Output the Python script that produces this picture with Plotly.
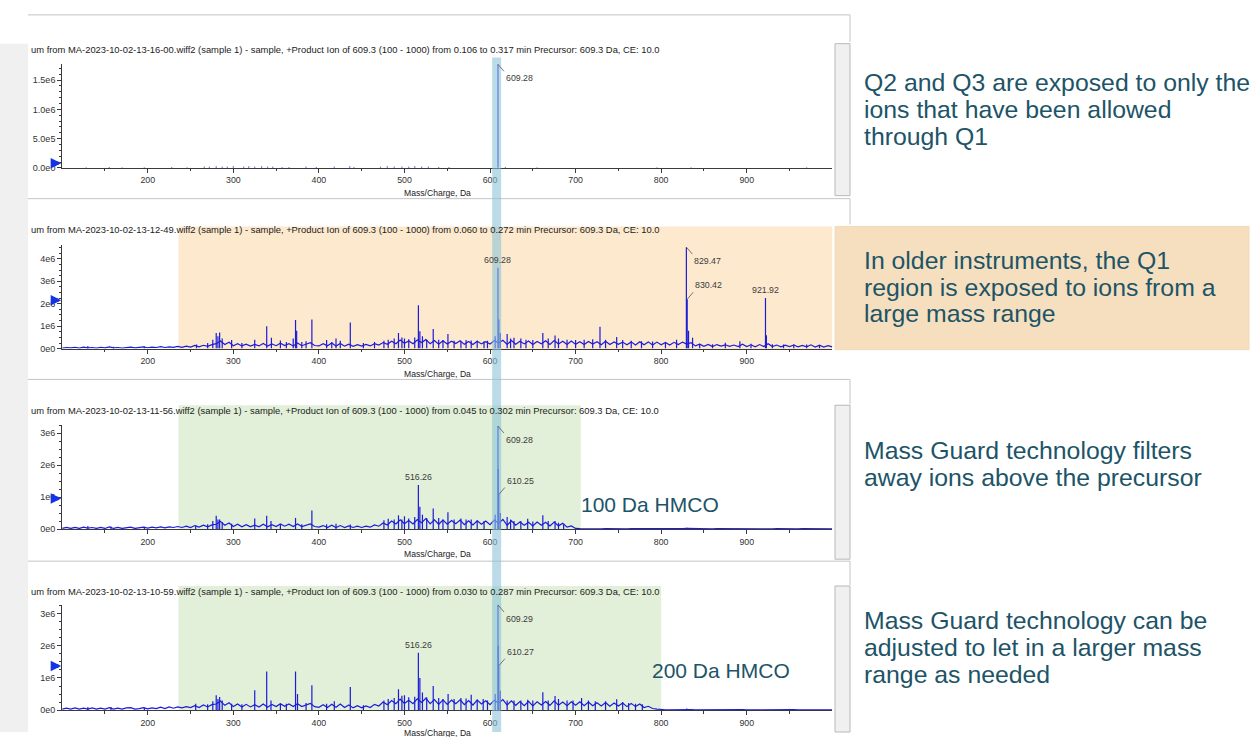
import plotly.graph_objects as go

W, H = 1253, 737
def X(px): return px / W
def Y(py): return 1 - py / H

# ---------------- data (intensities in units of 1e6 counts) ----------------
mz_grid = list(range(100, 1001, 5))

# panel 1: only isolated specks + precursor
peaks1_mz = [128, 155, 170, 196, 228, 246, 266, 272, 280, 287, 293, 300, 312, 318, 325, 333, 340, 346, 357, 365,
             385, 397, 418, 436, 441, 472, 480, 488, 497, 505, 512, 520, 528, 540, 552, 609.28, 618, 655, 795, 835, 970]
peaks1_int = [0.012, 0.015, 0.01, 0.012, 0.014, 0.012, 0.018, 0.02, 0.022, 0.018, 0.02, 0.022, 0.02, 0.024, 0.02, 0.022,
              0.02, 0.018, 0.016, 0.015, 0.02, 0.016, 0.018, 0.022, 0.016, 0.02, 0.022, 0.02, 0.018, 0.02, 0.022, 0.018,
              0.02, 0.016, 0.015, 1.77, 0.015, 0.012, 0.01, 0.012, 0.01]

base2 = [0.02, 0.05, 0.03, 0.06, 0.02, 0.07, 0.03, 0.05, 0.02, 0.06, 0.03, 0.08, 0.03, 0.05, 0.02, 0.06, 0.07, 0.03, 0.05, 0.08,
         0.04, 0.07, 0.05, 0.09, 0.05, 0.08, 0.06, 0.10, 0.06, 0.11, 0.07, 0.14, 0.08, 0.15, 0.10, 0.18, 0.22, 0.34, 0.18, 0.28,
         0.13, 0.22, 0.12, 0.20, 0.11, 0.19, 0.12, 0.23, 0.11, 0.21, 0.13, 0.24, 0.14, 0.22, 0.12, 0.25, 0.13, 0.21, 0.26, 0.14,
         0.12, 0.22, 0.13, 0.25, 0.12, 0.23, 0.11, 0.20, 0.10, 0.18, 0.11, 0.19, 0.12, 0.22, 0.16, 0.27, 0.19, 0.33, 0.22, 0.38,
         0.24, 0.34, 0.22, 0.38, 0.27, 0.40, 0.22, 0.36, 0.20, 0.35, 0.21, 0.33, 0.23, 0.35, 0.19, 0.32, 0.18, 0.33, 0.21, 0.31,
         0.20, 0.36, 0.25, 0.37, 0.19, 0.36, 0.20, 0.33, 0.21, 0.34, 0.18, 0.32, 0.22, 0.35, 0.19, 0.36, 0.21, 0.33, 0.18, 0.34,
         0.19, 0.31, 0.18, 0.32, 0.20, 0.31, 0.17, 0.33, 0.18, 0.30, 0.19, 0.29, 0.17, 0.30, 0.16, 0.31, 0.17, 0.30, 0.16, 0.29,
         0.17, 0.27, 0.16, 0.28, 0.18, 0.29, 0.20, 0.26, 0.12, 0.20, 0.10, 0.19, 0.09, 0.18, 0.11, 0.17, 0.10, 0.16, 0.09, 0.20,
         0.09, 0.17, 0.08, 0.18, 0.09, 0.22, 0.09, 0.16, 0.08, 0.15, 0.09, 0.16, 0.08, 0.14, 0.08, 0.17, 0.07, 0.15, 0.07, 0.13,
         0.08]
peaks2_mz = [130, 160, 196, 257, 270, 276, 280, 282, 284, 287, 298, 310, 325, 339, 344.5, 355, 362, 370, 372.7, 374,
             380, 385, 391.8, 409, 415, 420, 425, 436.7, 452, 465, 476, 481, 488, 493, 497, 500, 505, 512, 516.3, 518,
             521, 526, 533.6, 540, 545, 550.8, 558, 566, 572, 578, 585, 593, 597, 606, 609.28, 610.3, 612, 620, 624, 628,
             636, 642, 650, 661.7, 668, 676, 680, 690, 700, 710, 720, 728.5, 735, 748, 755, 765, 777, 790, 805, 818,
             829.47, 830.42, 832, 836.7, 845, 860, 875, 892, 905, 921.92, 923, 930, 943, 955, 970, 985]
peaks2_int = [0.12, 0.08, 0.10, 0.18, 0.25, 0.40, 0.70, 0.55, 0.72, 0.45, 0.38, 0.25, 0.40, 1.00, 0.48, 0.36, 0.30, 0.45, 1.27, 0.80,
              0.30, 0.33, 1.30, 0.38, 0.30, 0.45, 0.35, 1.16, 0.25, 0.30, 0.35, 0.40, 0.45, 0.70, 0.50, 0.45, 0.42, 0.50, 1.93, 0.77,
              0.55, 0.40, 0.87, 0.40, 0.38, 0.65, 0.35, 0.33, 0.38, 0.36, 0.35, 0.33, 0.35, 0.55, 3.60, 1.30, 0.70, 0.65, 0.45, 0.48,
              0.45, 0.40, 0.38, 0.70, 0.45, 0.58, 0.45, 0.40, 0.38, 0.40, 0.42, 0.98, 0.40, 0.52, 0.38, 0.35, 0.33, 0.32, 0.30, 0.40,
              4.52, 2.20, 0.80, 0.48, 0.22, 0.20, 0.26, 0.33, 0.22, 2.26, 0.60, 0.20, 0.18, 0.20, 0.18, 0.16]

base3 = [0.02, 0.05, 0.02, 0.05, 0.02, 0.06, 0.03, 0.05, 0.02, 0.05, 0.02, 0.07, 0.02, 0.05, 0.02, 0.05, 0.06, 0.02, 0.04, 0.06,
         0.03, 0.06, 0.04, 0.07, 0.04, 0.07, 0.05, 0.08, 0.05, 0.09, 0.05, 0.11, 0.06, 0.12, 0.07, 0.13, 0.15, 0.24, 0.12, 0.19,
         0.08, 0.15, 0.07, 0.14, 0.07, 0.12, 0.07, 0.15, 0.07, 0.14, 0.08, 0.16, 0.09, 0.15, 0.08, 0.16, 0.08, 0.13, 0.16, 0.08,
         0.06, 0.11, 0.05, 0.12, 0.05, 0.11, 0.05, 0.10, 0.05, 0.09, 0.05, 0.09, 0.06, 0.13, 0.09, 0.19, 0.13, 0.25, 0.16, 0.29,
         0.17, 0.27, 0.16, 0.30, 0.20, 0.33, 0.16, 0.29, 0.15, 0.28, 0.15, 0.27, 0.17, 0.28, 0.14, 0.26, 0.13, 0.26, 0.15, 0.25,
         0.14, 0.28, 0.18, 0.30, 0.12, 0.26, 0.12, 0.22, 0.12, 0.21, 0.10, 0.22, 0.12, 0.21, 0.10, 0.22, 0.10, 0.18, 0.06, 0.10,
         0.02, 0.015, 0.01, 0.015, 0.01, 0.012, 0.01, 0.015, 0.01, 0.012, 0.01, 0.015, 0.01, 0.012, 0.01, 0.015, 0.01, 0.012, 0.01, 0.015,
         0.01, 0.012, 0.01, 0.015, 0.01, 0.012, 0.02, 0.015, 0.01, 0.012, 0.01, 0.015, 0.01, 0.012, 0.01, 0.015, 0.01, 0.012, 0.01, 0.015,
         0.01, 0.012, 0.01, 0.015, 0.01, 0.012, 0.01, 0.015, 0.01, 0.012, 0.01, 0.015, 0.01, 0.012, 0.01, 0.015, 0.01, 0.012, 0.01, 0.015,
         0.01]
peaks3_mz = [130, 157, 196, 256, 270, 276, 280, 282, 284, 287, 298, 325, 339, 344, 355, 372.7, 380, 391.8, 409, 420,
             436.7, 476, 481, 488, 493, 497, 500, 505, 512, 516.26, 518, 521, 526, 533.6, 540, 545, 550.8, 558, 566, 572,
             578, 585, 593, 606, 609.28, 609.6, 610.25, 612, 620, 624, 628, 636, 644, 650, 661.7, 668, 676, 680, 686, 830]
peaks3_int = [0.10, 0.08, 0.07, 0.11, 0.15, 0.25, 0.42, 0.30, 0.30, 0.22, 0.17, 0.33, 0.42, 0.25, 0.15, 0.35, 0.15, 0.58, 0.15, 0.17,
              0.14, 0.28, 0.32, 0.30, 0.43, 0.30, 0.40, 0.33, 0.38, 1.38, 0.70, 0.45, 0.35, 0.64, 0.35, 0.30, 0.53, 0.30, 0.33, 0.30,
              0.30, 0.27, 0.25, 0.45, 3.22, 1.88, 1.08, 0.50, 0.38, 0.30, 0.25, 0.25, 0.32, 0.24, 0.43, 0.25, 0.25, 0.20, 0.14, 0.04]

base4 = [0.03, 0.06, 0.03, 0.07, 0.03, 0.06, 0.03, 0.07, 0.03, 0.06, 0.03, 0.08, 0.03, 0.06, 0.03, 0.07, 0.08, 0.03, 0.05, 0.08,
         0.04, 0.07, 0.05, 0.09, 0.05, 0.10, 0.06, 0.10, 0.07, 0.11, 0.08, 0.14, 0.08, 0.16, 0.10, 0.17, 0.19, 0.28, 0.15, 0.23,
         0.11, 0.19, 0.10, 0.18, 0.10, 0.17, 0.10, 0.19, 0.09, 0.18, 0.11, 0.20, 0.12, 0.19, 0.11, 0.20, 0.11, 0.17, 0.21, 0.11,
         0.09, 0.17, 0.08, 0.18, 0.09, 0.19, 0.08, 0.16, 0.07, 0.14, 0.07, 0.13, 0.08, 0.18, 0.13, 0.25, 0.17, 0.30, 0.20, 0.34,
         0.21, 0.31, 0.20, 0.35, 0.24, 0.37, 0.20, 0.33, 0.18, 0.32, 0.18, 0.31, 0.20, 0.32, 0.17, 0.30, 0.16, 0.31, 0.19, 0.29,
         0.17, 0.31, 0.22, 0.33, 0.16, 0.29, 0.15, 0.27, 0.14, 0.27, 0.13, 0.26, 0.16, 0.27, 0.15, 0.29, 0.15, 0.25, 0.14, 0.26,
         0.15, 0.26, 0.14, 0.25, 0.14, 0.23, 0.13, 0.24, 0.12, 0.22, 0.13, 0.22, 0.11, 0.21, 0.11, 0.19, 0.08, 0.12, 0.05, 0.03,
         0.01, 0.012, 0.01, 0.015, 0.01, 0.012, 0.02, 0.015, 0.01, 0.012, 0.01, 0.015, 0.01, 0.012, 0.01, 0.015, 0.01, 0.012, 0.01, 0.015,
         0.01, 0.012, 0.01, 0.015, 0.01, 0.012, 0.01, 0.015, 0.01, 0.012, 0.01, 0.015, 0.01, 0.012, 0.01, 0.015, 0.01, 0.012, 0.01, 0.015,
         0.01]
peaks4_mz = [130, 157, 196, 256, 270, 276, 280, 282, 284, 287, 298, 310, 325, 339, 344, 355, 362, 372.7, 375, 385,
             391.8, 409, 418, 436.7, 452, 476, 481, 488, 493, 497, 500, 505, 512, 516.26, 518, 521, 526, 533.6, 540, 545,
             551, 558, 566, 572, 578, 585, 592, 597, 606, 609.29, 609.6, 610.27, 612, 620, 628, 636, 644, 650, 661.7, 668,
             676, 680, 690, 697, 707, 715, 723, 735, 748, 755, 762, 770, 778, 830]
peaks4_int = [0.10, 0.10, 0.08, 0.20, 0.18, 0.28, 0.46, 0.35, 0.41, 0.30, 0.20, 0.18, 0.62, 1.20, 0.30, 0.20, 0.20, 1.20, 0.50, 0.22,
              0.77, 0.20, 0.28, 0.72, 0.15, 0.30, 0.35, 0.38, 0.65, 0.45, 0.46, 0.40, 0.42, 1.78, 1.00, 0.55, 0.40, 0.75, 0.38, 0.35,
              0.50, 0.35, 0.38, 0.36, 0.48, 0.33, 0.35, 0.30, 0.50, 3.27, 2.00, 1.38, 0.60, 0.30, 0.30, 0.30, 0.32, 0.30, 0.56, 0.30,
              0.44, 0.35, 0.30, 0.30, 0.38, 0.30, 0.28, 0.28, 0.34, 0.25, 0.22, 0.20, 0.18, 0.05]

# peak labels: (m/z, intensity, text, style)
labels1 = [(609.28, 1.77, "609.28", "down")]
labels2 = [(609.28, 3.60, "609.28", "top"), (829.47, 4.52, "829.47", "down"),
           (830.42, 2.20, "830.42", "up"), (921.92, 2.26, "921.92", "top")]
labels3 = [(609.28, 3.22, "609.28", "down"), (610.25, 1.08, "610.25", "up"), (516.26, 1.38, "516.26", "top")]
labels4 = [(609.29, 3.27, "609.29", "down"), (610.27, 1.38, "610.27", "up"), (516.26, 1.78, "516.26", "top")]

titles = [
    "um from MA-2023-10-02-13-16-00.wiff2 (sample 1) - sample, +Product Ion of 609.3 (100 - 1000) from 0.106 to 0.317 min Precursor: 609.3 Da, CE: 10.0",
    "um from MA-2023-10-02-13-12-49.wiff2 (sample 1) - sample, +Product Ion of 609.3 (100 - 1000) from 0.060 to 0.272 min Precursor: 609.3 Da, CE: 10.0",
    "um from MA-2023-10-02-13-11-56.wiff2 (sample 1) - sample, +Product Ion of 609.3 (100 - 1000) from 0.045 to 0.302 min Precursor: 609.3 Da, CE: 10.0",
    "um from MA-2023-10-02-13-10-59.wiff2 (sample 1) - sample, +Product Ion of 609.3 (100 - 1000) from 0.030 to 0.287 min Precursor: 609.3 Da, CE: 10.0",
]
x_ticks = [200, 300, 400, 500, 600, 700, 800, 900]
x_minor = [150, 250, 350, 450, 550, 650, 750, 850, 950]
y_ticks1 = [0, 0.5, 1.0, 1.5]
y_text1 = ["0.0e0", "5.0e5", "1.0e6", "1.5e6"]
y_ticks = [0, 1, 2, 3, 4]
y_text = ["0e0", "1e6", "2e6", "3e6", "4e6"]
marker_level = [0.08, 2.15, 0.96, 1.37]   # position of the blue threshold arrow

side_text = [
    (["Q2 and Q3 are exposed to only the", "ions that have been allowed", "through Q1"], [83, 110, 137]),
    (["In older instruments, the Q1", "region is exposed to ions from a", "large mass range"], [262, 289, 316]),
    (["Mass Guard technology filters", "away ions above the precursor"], [454, 481]),
    (["Mass Guard technology can be", "adjusted to let in a larger mass", "range as needed"], [625, 652, 679]),
]

# ---------------- layout geometry (pixels) ----------------
X_LEFT, X_RIGHT = 62.2, 832.3
panels = [  # (pixel of zero line, px per 1e6, y max in 1e6, title y, xlabel top y)
    (169.0, 58.9, 1.78, 50, 187),
    (351.0, 22.6, 4.62, 231, 370),
    (532.7, 32.2, 3.27, 413, 551),
    (715.0, 32.4, 3.27, 596, 731),
]
BLUE = "#1c1cd8"
TEXT = "#1d5467"
FONT = "Arial, Liberation Sans, sans-serif"

fig = go.Figure()
bases = [None, base2, base3, base4]
peaks = [(peaks1_mz, peaks1_int), (peaks2_mz, peaks2_int), (peaks3_mz, peaks3_int), (peaks4_mz, peaks4_int)]
labels = [labels1, labels2, labels3, labels4]

annotations = []
shapes = []

for i, (zero_px, scale, ymax, title_y, xlab_y) in enumerate(panels):
    n = i + 1
    xa = "x" if n == 1 else f"x{n}"
    ya = "y" if n == 1 else f"y{n}"
    top_px = zero_px - ymax * scale
    fig.layout[f"xaxis{n if n > 1 else ''}"] = dict(
        domain=[X(X_LEFT), X(X_RIGHT)], range=[100, 1000], anchor=ya,
        showline=True, linecolor="#3a3a3a", linewidth=1, mirror=False,
        ticks="outside", ticklen=4, tickcolor="#3a3a3a",
        tickmode="array", tickvals=x_ticks, ticktext=[str(v) for v in x_ticks],
        tickfont=dict(family=FONT, size=8.8, color="#333"),
        minor=dict(tickmode="array", tickvals=x_minor, ticks="outside", ticklen=2.5, tickcolor="#3a3a3a"),
        showgrid=False, zeroline=False, layer="below traces", fixedrange=True,
    )
    if n == 1:
        tv = [v * 1e6 for v in y_ticks1]; tt = y_text1; mdt = 1e5
    else:
        tv = [v * 1e6 for v in y_ticks if v <= ymax]; tt = y_text[:len(tv)]; mdt = 2.5e5
    fig.layout[f"yaxis{n if n > 1 else ''}"] = dict(
        domain=[Y(zero_px), Y(top_px)], range=[0, ymax * 1e6], anchor=xa,
        showline=True, linecolor="#3a3a3a", linewidth=1,
        ticks="outside", ticklen=4, tickcolor="#3a3a3a",
        tickmode="array", tickvals=tv, ticktext=tt,
        tickfont=dict(family=FONT, size=9, color="#333"),
        minor=dict(tickmode="linear", tick0=0, dtick=mdt, ticks="outside", ticklen=2, tickcolor="#3a3a3a"),
        showgrid=False, zeroline=False, layer="below traces", fixedrange=True,
    )
    # spectrum baseline profile
    if bases[i] is not None:
        fig.add_trace(go.Scatter(x=mz_grid, y=[v * 1e6 for v in bases[i]], mode="lines",
                                 line=dict(color=BLUE, width=1.2), xaxis=xa, yaxis=ya,
                                 hoverinfo="skip", showlegend=False))
    # peak sticks
    sx, sy = [], []
    for m, h in zip(*peaks[i]):
        sx += [m, m, None]
        sy += [0, h * 1e6, None]
    fig.add_trace(go.Scatter(x=sx, y=sy, mode="lines", line=dict(color=BLUE, width=1.2),
                             xaxis=xa, yaxis=ya, hoverinfo="skip", showlegend=False, cliponaxis=False))
    # peak labels
    for m, h, txt, style in labels[i]:
        common = dict(x=m, y=h * 1e6, xref=xa, yref=ya, text=txt,
                      font=dict(family=FONT, size=8.8, color="#3c3c3c"))
        if style == "top":
            annotations.append(dict(**common, showarrow=False, yanchor="bottom", xanchor="center", yshift=1))
        elif style == "down":
            annotations.append(dict(**common, showarrow=True, arrowhead=0, arrowwidth=0.8, arrowcolor="#555",
                                    ax=6, ay=7, xanchor="left", yanchor="top", standoff=0))
        else:
            annotations.append(dict(**common, showarrow=True, arrowhead=0, arrowwidth=0.8, arrowcolor="#555",
                                    ax=6, ay=-7, xanchor="left", yanchor="bottom", standoff=0))
    # blue threshold arrow at the left of the y axis
    annotations.append(dict(x=100, y=marker_level[i] * 1e6, xref=xa, yref=ya, text="", showarrow=True,
                            arrowhead=2, arrowsize=0.6, arrowwidth=3.5, arrowcolor="#1432e6",
                            ax=-11, ay=0, standoff=1))
    # title and axis label
    annotations.append(dict(x=X(29), y=Y(title_y), xref="paper", yref="paper", text=titles[i], showarrow=False,
                            xanchor="left", yanchor="middle", font=dict(family=FONT, size=9.4, color="#222")))
    annotations.append(dict(x=X(437), y=Y(xlab_y), xref="paper", yref="paper", text="Mass/Charge, Da",
                            showarrow=False, xanchor="center", yanchor="top",
                            font=dict(family=FONT, size=8.6, color="#222")))

# ---------------- background decorations ----------------
GRAY = "#f0f0f0"
LINE = "#c4c4c4"
shapes.append(dict(type="rect", xref="paper", yref="paper", x0=X(0), x1=X(28), y0=Y(737), y1=Y(44),
                   fillcolor=GRAY, line=dict(width=0), layer="below"))
for (t, b) in [(44, 197), (408, 563), (590, 737)]:
    shapes.append(dict(type="rect", xref="paper", yref="paper", x0=X(835), x1=X(850), y0=Y(b), y1=Y(t),
                       fillcolor=GRAY, line=dict(color="#b8b8b8", width=1), layer="below"))
for (yy, y2) in [(15, 42), (200, 226), (382, 407), (565, 589)]:
    shapes.append(dict(type="line", xref="paper", yref="paper", x0=X(28), x1=X(850), y0=Y(yy), y1=Y(yy),
                       line=dict(color=LINE, width=1), layer="below"))
    shapes.append(dict(type="line", xref="paper", yref="paper", x0=X(850), x1=X(850), y0=Y(y2), y1=Y(yy),
                       line=dict(color=LINE, width=1), layer="below"))
shapes.append(dict(type="rect", xref="x2", yref="paper", x0=236, x1=1003.5, y0=Y(352), y1=Y(228),
                   fillcolor="#fde9ce", line=dict(width=0), layer="below"))
shapes.append(dict(type="rect", xref="paper", yref="paper", x0=X(835), x1=X(1249), y0=Y(352), y1=Y(228),
                   fillcolor="#f5dfbf", line=dict(color="#f3d9b3", width=1), layer="below"))
shapes.append(dict(type="rect", xref="x3", yref="paper", x0=236, x1=706, y0=Y(533), y1=Y(408),
                   fillcolor="#e2efd9", line=dict(width=0), layer="below"))
shapes.append(dict(type="rect", xref="x4", yref="paper", x0=236, x1=800, y0=Y(715), y1=Y(590),
                   fillcolor="#e2efd9", line=dict(width=0), layer="below"))
shapes.append(dict(type="rect", xref="x", yref="paper", x0=602.5, x1=613, y0=0, y1=Y(58),
                   fillcolor="rgb(140,195,215)", opacity=0.6, line=dict(width=0), layer="above"))

# ---------------- slide text ----------------
for lines, ys in side_text:
    for line, yy in zip(lines, ys):
        annotations.append(dict(x=X(862), y=Y(yy), xref="paper", yref="paper", text=line, showarrow=False,
                                xanchor="left", yanchor="middle", font=dict(family=FONT, size=24.8, color=TEXT)))
annotations.append(dict(x=X(579), y=Y(508), xref="paper", yref="paper", text="100 Da HMCO", showarrow=False,
                        xanchor="left", yanchor="middle", font=dict(family=FONT, size=21, color=TEXT)))
annotations.append(dict(x=X(650), y=Y(675), xref="paper", yref="paper", text="200 Da HMCO", showarrow=False,
                        xanchor="left", yanchor="middle", font=dict(family=FONT, size=21, color=TEXT)))

fig.update_layout(width=W, height=H, margin=dict(l=0, r=0, t=0, b=0),
                  paper_bgcolor="white", plot_bgcolor="rgba(0,0,0,0)",
                  annotations=annotations, shapes=shapes, showlegend=False)

fig.write_html("out.html", config={"displayModeBar": False},
               post_script="document.body.style.margin='0';document.body.style.overflow='hidden';"
                           "document.documentElement.style.overflow='hidden';")
